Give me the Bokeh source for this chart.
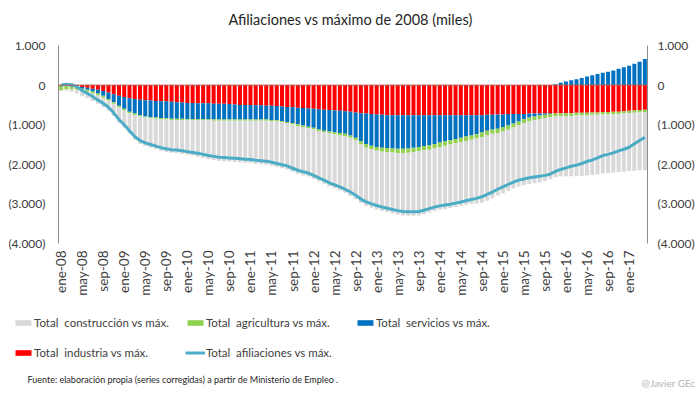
import numpy as np
from bokeh.plotting import figure
from bokeh.layouts import column
from bokeh.models import (Range1d, LinearAxis, FixedTicker, Span, Legend,
                          LegendItem, Label, ColumnDataSource)
from bokeh.embed import file_html
from bokeh.resources import INLINE

# ---------------- data (miles) : monthly, ene-08 .. abr-17 ----------------
tick_labels = ["ene-08", "may-08", "sep-08", "ene-09", "may-09", "sep-09",
               "ene-10", "may-10", "sep-10", "ene-11", "may-11", "sep-11",
               "ene-12", "may-12", "sep-12", "ene-13", "may-13", "sep-13",
               "ene-14", "may-14", "sep-14", "ene-15", "may-15", "sep-15",
               "ene-16", "may-16", "sep-16", "ene-17"]

industria = [
    -10, -10, -20, -30, -50, -70, -90, -120, -150, -190, -230, -270,
    -300, -330, -350, -370, -380, -390, -400, -410, -410, -420, -430, -440,
    -450, -450, -460, -460, -460, -470, -470, -470, -480, -490, -500, -500,
    -500, -510, -510, -520, -520, -530, -540, -550, -560, -570, -580, -590,
    -600, -610, -620, -630, -640, -650, -660, -670, -690, -710, -720, -730,
    -740, -750, -760, -760, -760, -760, -760, -760, -760, -760, -760, -760,
    -760, -760, -760, -760, -760, -760, -760, -760, -760, -750, -750, -740,
    -740, -730, -730, -730, -730, -720, -720, -720, -720, -720, -720, -710,
    -710, -710, -700, -700, -700, -690, -690, -680, -680, -670, -670, -660,
    -650, -640, -630, -620]

servicios = [
    -10, -10, -20, -30, -40, -50, -70, -90, -120, -160, -200, -250,
    -300, -340, -370, -390, -410, -420, -420, -420, -430, -430, -420, -410,
    -410, -410, -400, -400, -400, -400, -400, -400, -390, -380, -370, -370,
    -370, -360, -360, -350, -360, -360, -370, -380, -400, -420, -440, -460,
    -480, -510, -530, -540, -550, -560, -570, -600, -640, -710, -770, -800,
    -820, -830, -830, -840, -850, -850, -840, -820, -800, -780, -760, -730,
    -690, -660, -630, -600, -570, -540, -510, -480, -440, -400, -370, -360,
    -320, -290, -240, -190, -130, -100, -70, -50, -30, -10, 20, 60,
    90, 120, 150, 180, 220, 250, 280, 310, 340, 370, 410, 450,
    490, 540, 590, 660]

agricultura = [
    -110, -90, -70, -60, -60, -50, -50, -50, -50, -40, -40, -40,
    -40, -40, -40, -30, -30, -30, -30, -30, -30, -30, -30, -30,
    -30, -30, -30, -30, -30, -30, -30, -30, -30, -30, -30, -30,
    -30, -30, -30, -30, -30, -30, -30, -30, -30, -40, -40, -40,
    -40, -40, -40, -50, -50, -50, -60, -60, -70, -80, -90, -90,
    -100, -100, -100, -100, -110, -110, -110, -110, -110, -110, -110, -110,
    -110, -110, -110, -110, -110, -110, -110, -110, -110, -110, -110, -110,
    -110, -110, -100, -100, -100, -100, -90, -90, -80, -80, -70, -70,
    -70, -70, -70, -70, -70, -60, -60, -60, -60, -60, -60, -60,
    -60, -60, -60, -60]

construccion = [
    -10, -30, -60, -90, -130, -160, -190, -210, -240, -260, -310, -390,
    -430, -510, -620, -690, -720, -740, -770, -800, -820, -830, -840, -860,
    -870, -890, -920, -950, -980, -990, -1010, -1020, -1030, -1040, -1050, -1060,
    -1070, -1090, -1100, -1110, -1130, -1150, -1160, -1170, -1200, -1210, -1220, -1220,
    -1250, -1270, -1300, -1340, -1370, -1400, -1430, -1470, -1480, -1480, -1470, -1480,
    -1480, -1500, -1520, -1540, -1550, -1570, -1590, -1610, -1620, -1610, -1590, -1580,
    -1590, -1600, -1610, -1610, -1610, -1610, -1620, -1640, -1660, -1660, -1630, -1580,
    -1560, -1540, -1540, -1540, -1570, -1580, -1600, -1600, -1590, -1570, -1540, -1530,
    -1520, -1520, -1530, -1520, -1510, -1520, -1500, -1490, -1480, -1480, -1470, -1470,
    -1460, -1460, -1460, -1470]

afiliaciones = [
    0, 20, 10, -40, -140, -210, -290, -380, -460, -560, -700, -870,
    -1000, -1150, -1300, -1400, -1460, -1500, -1540, -1580, -1610, -1630, -1640, -1660,
    -1680, -1700, -1720, -1750, -1780, -1800, -1820, -1830, -1840, -1850, -1860, -1870,
    -1880, -1900, -1910, -1920, -1950, -1980, -2010, -2040, -2100, -2150, -2190, -2220,
    -2280, -2340, -2400, -2470, -2520, -2570, -2630, -2700, -2780, -2880, -2950, -3000,
    -3040, -3080, -3110, -3140, -3170, -3190, -3200, -3200, -3190, -3160, -3120, -3080,
    -3050, -3030, -3010, -2980, -2950, -2920, -2890, -2860, -2820, -2760, -2700, -2630,
    -2570, -2510, -2450, -2400, -2370, -2340, -2320, -2300, -2280, -2250, -2180, -2130,
    -2090, -2050, -2020, -1980, -1930, -1890, -1840, -1780, -1750, -1710, -1660, -1620,
    -1570, -1480, -1400, -1320]

y_ticks = [1000, 0, -1000, -2000, -3000, -4000]
y_tick_labels = ["1.000", "0", "(1.000)", "(2.000)", "(3.000)", "(4.000)"]

names = ["Total  construcción vs máx.", "Total  agricultura vs máx.",
         "Total  servicios vs máx.", "Total  industria vs máx.",
         "Total  afiliaciones vs máx."]
colors = {"construccion": "#d9d9d9", "agricultura": "#92d050",
          "servicios": "#0070c0", "industria": "#ff0000",
          "afiliaciones": "#4bacc6"}

FONT = "Lato"
TXT = "#404040"
W = 698

n = len(afiliaciones)
x = np.arange(n)


def blank(height):
    f = figure(width=W, height=height, x_range=Range1d(0, W),
               y_range=Range1d(0, height), output_backend="svg",
               toolbar_location=None, x_axis_location=None,
               y_axis_location=None, min_border_left=0, min_border_right=0,
               min_border_top=0, min_border_bottom=0)
    f.frame_align = False
    f.grid.visible = False
    f.outline_line_color = None
    return f


# ---------------- title panel ----------------
H0 = 30
f0 = blank(H0)
f0.add_layout(Label(x=350, y=H0 - 19, x_units="screen", y_units="screen",
                    text="Afiliaciones vs máximo de 2008 (miles)",
                    text_align="center", text_baseline="middle",
                    text_font=FONT, text_font_size="14.5px",
                    text_color="#262626"))

# ---------------- main chart ----------------
p = figure(width=W, height=270,
           x_range=Range1d(-0.5, n - 0.5), y_range=Range1d(-4000, 1000),
           output_backend="svg", toolbar_location=None,
           min_border_left=58, min_border_right=W - 58 - 589,
           min_border_top=15, min_border_bottom=57)
p.frame_align = False
p.outline_line_color = None
p.grid.visible = False

# stacked bars: negatives stack downward from zero, positives upward
stack = [("industria", industria), ("servicios", servicios),
         ("agricultura", agricultura), ("construccion", construccion)]
neg = np.zeros(n)
pos = np.zeros(n)
for key, vals in stack:
    v = np.array(vals, dtype=float)
    isneg = v < 0
    bottom = np.where(isneg, neg + v, pos)
    top = np.where(isneg, neg, pos + v)
    neg = np.where(isneg, neg + v, neg)
    pos = np.where(isneg, pos, pos + v)
    src = ColumnDataSource(dict(x=x, bottom=bottom, top=top))
    p.vbar(x="x", bottom="bottom", top="top", width=0.76, source=src,
           fill_color=colors[key], line_color=None)

p.add_layout(Span(location=0, dimension="width", line_color="#b86058",
                  line_width=1))
p.line(x, afiliaciones, line_color=colors["afiliaciones"], line_width=3)

p.xaxis.ticker = FixedTicker(ticks=list(range(0, n, 4)))
p.xaxis.major_label_overrides = {i * 4: t for i, t in enumerate(tick_labels)}
p.xaxis.major_label_orientation = np.pi / 2
p.xaxis.axis_line_color = None
p.xaxis.major_tick_line_color = None
p.xaxis.minor_tick_line_color = None
p.xaxis.major_tick_out = 0
p.xaxis.major_tick_in = 0
p.xaxis.major_label_standoff = 7
p.xaxis.major_label_text_font = FONT
p.xaxis.major_label_text_font_size = "13.5px"
p.xaxis.major_label_text_color = TXT

right_axis = LinearAxis()
p.add_layout(right_axis, "right")
for ax in (p.yaxis[0], right_axis):
    ax.ticker = FixedTicker(ticks=y_ticks)
    ax.major_label_overrides = dict(zip(y_ticks, y_tick_labels))
    ax.axis_line_color = "#8c8c8c"
    ax.major_tick_line_color = None
    ax.minor_tick_line_color = None
    ax.major_tick_out = 0
    ax.major_tick_in = 0
    ax.major_label_text_font = FONT
    ax.major_label_text_font_size = "12px"
    ax.major_label_text_color = TXT
p.yaxis[0].major_label_standoff = 13
right_axis.major_label_standoff = 10

# ---------------- legend + source panel ----------------
H2 = 96
f2 = blank(H2)

# legend proxies (placed outside the visible range, only used for the key)
proxy = ColumnDataSource(dict(x=[-1000, -999], top=[0, 0], y=[0, 0]))
lr = {}
for key in ["construccion", "agricultura", "servicios", "industria"]:
    lr[key] = f2.vbar(x="x", top="top", width=1, source=proxy,
                      fill_color=colors[key], line_color=None)
lr["afiliaciones"] = f2.line(x="x", y="y", source=proxy,
                             line_color=colors["afiliaciones"], line_width=3)

items = [LegendItem(label=names[0], renderers=[lr["construccion"]]),
         LegendItem(label=names[1], renderers=[lr["agricultura"]]),
         LegendItem(label=names[2], renderers=[lr["servicios"]]),
         LegendItem(label=names[3], renderers=[lr["industria"]]),
         LegendItem(label=names[4], renderers=[lr["afiliaciones"]])]
legend = Legend(items=items, location=(13, 37), orientation="horizontal",
                ncols=3, padding=0, margin=0, spacing=16,
                glyph_width=20, glyph_height=7, label_height=14,
                label_width=133, label_standoff=1,
                border_line_color=None, background_fill_alpha=0,
                label_text_font=FONT, label_text_font_size="11.5px",
                label_text_color=TXT)
f2.add_layout(legend, "center")

f2.add_layout(Label(x=27, y=17, x_units="screen", y_units="screen",
                    text="Fuente: elaboración propia  (series corregidas) a partir de Ministerio de Empleo .",
                    text_baseline="middle", text_font=FONT,
                    text_font_size="9px", text_color="#262626"))
f2.add_layout(Label(x=695, y=14, x_units="screen", y_units="screen",
                    text="@Javier GEc", text_align="right",
                    text_baseline="middle", text_font=FONT,
                    text_font_size="10px", text_color="#b4b4b4"))

layout = column(f0, p, f2, spacing=0)
open("out.html", "w").write(file_html(layout, INLINE))
